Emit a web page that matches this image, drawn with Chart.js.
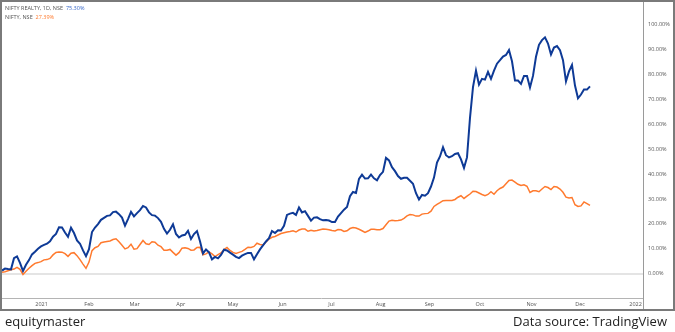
<!DOCTYPE html>
<html><head><meta charset="utf-8">
<script src="https://cdn.jsdelivr.net/npm/chart.js@4"></script>
<style>
html,body{margin:0;padding:0;background:#fff;}
#wrap{position:relative;width:675px;height:332px;overflow:hidden;background:#fff;}
canvas{position:absolute;left:0;top:0;}
.leg{position:absolute;left:5px;font:5.5px "Open Sans",sans-serif;color:#555;white-space:nowrap;line-height:7px;}
.foot{position:absolute;top:312px;font:13px "Open Sans",sans-serif;color:#222;line-height:18px;white-space:nowrap;}
</style></head><body>
<div id="wrap">
<canvas id="c" width="675" height="332"></canvas>
<div class="leg" style="top:5px">NIFTY REALTY, 1D, NSE&nbsp;&nbsp;<span id="v1" style="color:#3566c8"></span></div>
<div class="leg" style="top:14px">NIFTY, NSE&nbsp;&nbsp;<span id="v2" style="color:#ff7a2e"></span></div>
<div class="foot" style="left:5px">equitymaster</div>
<div class="foot" style="right:8px">Data source: TradingView</div>
</div>
<script>
// % change since start, one value about every ~1.25 trading days (Dec 2020 - Dec 2021)
const realty = [
1.2,2.0,1.8,1.7,6.2,6.9,4.3,1.0,3.5,5.4,
7.7,8.8,10.0,10.9,11.5,12.0,13.0,14.8,15.9,18.6,
18.5,16.5,14.8,18.4,16.3,13.3,12.0,9.3,7.0,9.8,
16.7,18.5,19.9,21.6,22.4,23.2,23.4,24.7,24.9,23.9,
22.5,19.3,21.9,24.8,23.0,24.3,25.5,27.2,26.6,24.6,
23.5,23.3,22.3,20.8,18.0,16.1,17.6,19.8,15.9,14.5,
15.3,15.6,17.2,13.9,15.9,17.1,13.0,8.1,9.7,8.5,
5.7,6.7,6.1,7.5,9.6,9.3,8.4,7.6,6.7,6.2,
7.2,7.8,8.3,8.3,5.7,7.8,9.7,11.3,12.9,14.2,
17.1,16.3,17.4,17.3,19.2,23.6,24.1,24.4,23.6,26.6,
24.6,25.1,23.2,21.3,22.5,22.6,21.9,21.4,21.5,21.3,
20.7,20.7,22.9,24.3,25.7,26.8,31.1,32.8,32.4,38.1,
39.8,38.2,38.3,39.8,38.3,37.5,39.6,40.9,46.5,45.5,
42.8,41.2,39.2,38.1,38.5,38.5,37.3,36.1,32.3,29.8,
31.6,31.3,32.3,35.0,38.6,44.6,47.1,50.8,47.6,46.7,
47.2,48.1,48.4,45.9,42.5,46.7,62.6,75.0,81.6,76.0,
78.3,78.0,81.1,78.3,81.6,84.4,85.8,87.3,87.9,89.9,
85.4,77.6,77.6,76.3,79.5,79.5,74.8,79.5,87.2,92.0,
93.9,95.0,92.5,88.1,90.9,91.5,89.8,85.8,77.3,81.3,
83.9,75.6,70.5,72.0,74.0,74.0,75.3];
const nifty = [
0.5,0.7,1.1,1.5,1.8,2.5,1.7,-0.4,0.9,2.1,
3.2,4.1,4.4,4.8,5.5,5.6,6.1,7.5,8.5,8.7,
8.6,8.0,6.9,8.2,8.4,7.2,5.6,3.8,2.1,4.6,
9.2,10.4,10.9,12.4,12.7,12.9,13.1,13.7,14.0,12.8,
11.4,9.9,10.4,11.8,9.8,10.0,11.7,13.3,12.0,11.7,
12.8,12.6,11.4,10.8,9.4,9.4,9.7,8.5,7.4,8.4,
10.2,10.4,10.1,9.4,9.5,10.5,10.6,7.5,7.9,8.7,
7.9,6.8,7.6,8.3,9.6,10.5,9.3,8.5,8.1,8.5,
8.9,9.7,10.6,10.5,10.9,12.2,11.7,11.5,12.7,13.9,
14.6,14.9,15.5,16.1,16.4,16.7,16.9,17.2,16.7,17.5,
17.9,17.9,17.0,17.4,17.1,17.3,17.6,17.9,17.8,17.6,
17.3,17.1,17.7,17.6,16.9,17.2,18.1,18.5,18.3,17.8,
17.2,16.5,17.1,17.8,17.8,17.6,17.6,18.1,19.6,21.1,
21.4,21.2,21.3,21.5,22.2,23.2,23.7,23.6,23.1,23.1,
23.9,24.1,24.2,25.1,27.0,27.8,28.5,29.3,29.4,29.4,
29.4,29.8,30.7,31.3,30.2,31.1,32.0,33.1,33.0,32.4,
31.8,31.3,31.8,32.9,31.9,33.3,34.2,34.8,36.1,37.4,
37.6,36.8,35.9,35.4,35.7,35.1,32.6,33.3,33.3,32.9,
34.0,35.0,34.6,33.8,35.0,34.8,34.0,32.7,30.7,30.4,
30.6,27.7,27.0,27.2,28.8,28.1,27.4];
const legendValues = ['75.30%', '27.39%'];
const monthLabels = ['2021','Feb','Mar','Apr','May','Jun','Jul','Aug','Sep','Oct','Nov','Dec','2022'];
const monthTickIdx = [13.2,29.0,44.2,59.6,77.0,93.5,109.8,126.2,142.5,159.3,176.5,192.7,211.2];
const yTickValues = [0,10,20,30,40,50,60,70,80,90,100];

document.getElementById('v1').textContent = legendValues[0];
document.getElementById('v2').textContent = legendValues[1];

const toPts = arr => arr.map((v, i) => ({x: i, y: v}));

const frame = {
  id: 'frame',
  afterDraw(chart) {
    const {ctx, chartArea: a} = chart;
    ctx.save();
    ctx.strokeStyle = '#b4b4b4';
    ctx.lineWidth = 1;
    ctx.beginPath();
    ctx.moveTo(0, Math.round(a.bottom) + 0.5);
    ctx.lineTo(Math.round(a.right), Math.round(a.bottom) + 0.5);
    ctx.stroke();
    ctx.strokeStyle = '#9a9a9a';
    ctx.beginPath();
    ctx.moveTo(Math.round(a.right) + 0.5, 0);
    ctx.lineTo(Math.round(a.right) + 0.5, 310);
    ctx.stroke();
    ctx.strokeStyle = '#7a7a7a';
    ctx.lineWidth = 2;
    ctx.strokeRect(1, 1, 673, 309);
    ctx.restore();
  }
};

new Chart(document.getElementById('c'), {
  type: 'line',
  data: {
    datasets: [
      {data: toPts(realty), borderColor: '#0e3a96', borderWidth: 2, pointRadius: 0, tension: 0},
      {data: toPts(nifty), borderColor: '#ff7a2e', borderWidth: 1.5, pointRadius: 0, tension: 0}
    ]
  },
  options: {
    responsive: false,
    animation: false,
    events: [],
    plugins: {legend: {display: false}, tooltip: {enabled: false}},
    layout: {padding: {left: 2, top: 2, right: 0, bottom: 22}},
    scales: {
      x: {
        type: 'linear', min: 0, max: 213.67,
        afterBuildTicks: s => { s.ticks = monthTickIdx.map(v => ({value: v})); },
        afterFit: s => { s.height = 12; },
        ticks: {autoSkip: false, maxRotation: 0, padding: 3, color: '#555',
          font: {size: 5.5, family: 'Open Sans'},
          callback: (v, i) => monthLabels[i]},
        grid: {display: false, drawTicks: false},
        border: {display: false}
      },
      y: {
        position: 'right', min: -9.84, max: 106.69,
        afterBuildTicks: s => { s.ticks = yTickValues.map(v => ({value: v})); },
        afterFit: s => { s.width = 32; },
        ticks: {padding: 5, color: '#555', font: {size: 5.5, family: 'Open Sans'},
          callback: v => v.toFixed(2) + '%'},
        grid: {drawTicks: false, lineWidth: 2,
          color: c => (c.tick && c.tick.value === 0) ? '#e4e4e4' : 'rgba(0,0,0,0)'},
        border: {display: false}
      }
    }
  },
  plugins: [frame]
});
</script>
</body></html>
